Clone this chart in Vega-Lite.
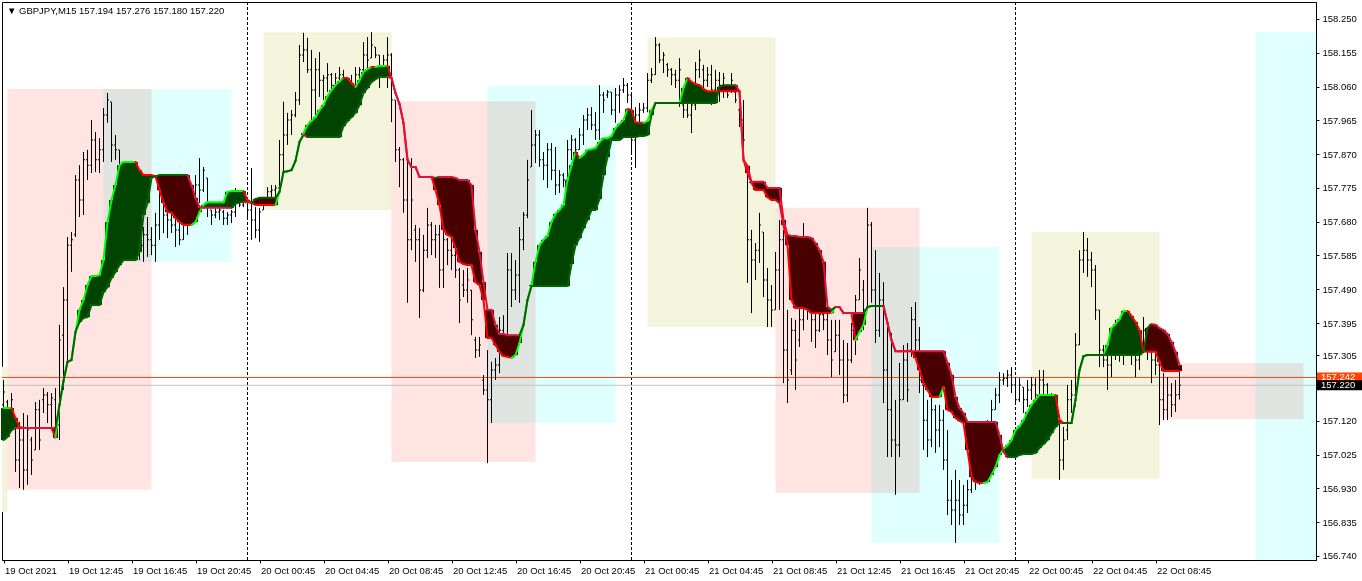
{
"$schema":"https://vega.github.io/schema/vega-lite/v6.json",
"width":1314,"height":558,
"autosize":{"type":"none"},
"padding":{"left":2,"top":2,"right":46,"bottom":21},
"background":"#ffffff",
"title":{"text":"▼ GBPJPY,M15  157.194 157.276 157.180 157.220","anchor":"start","frame":"group","offset":-14,"fontSize":9.5,"fontWeight":"normal","font":"Liberation Sans","color":"#000000","dx":5},
"config":{"font":"Liberation Sans","view":{"stroke":"#000000","strokeWidth":1},"axis":{"labelFont":"Liberation Sans","labelFontSize":9.5,"labelColor":"#000000","domainColor":"#000000","tickColor":"#000000","grid":false,"labelOverlap":false}},
"datasets":{
"sessions":[
{"kind":"Tokyo","s":"2021-10-19T01:00Z","e":"2021-10-19T09:00Z","hi":157.272,"lo":156.864},
{"kind":"London","s":"2021-10-19T09:00Z","e":"2021-10-19T18:00Z","hi":158.053,"lo":156.926},
{"kind":"NewYork","s":"2021-10-19T15:00Z","e":"2021-10-19T23:00Z","hi":158.053,"lo":157.567},
{"kind":"Tokyo","s":"2021-10-20T01:00Z","e":"2021-10-20T09:00Z","hi":158.213,"lo":157.713},
{"kind":"London","s":"2021-10-20T09:00Z","e":"2021-10-20T18:00Z","hi":158.019,"lo":157.004},
{"kind":"NewYork","s":"2021-10-20T15:00Z","e":"2021-10-20T23:00Z","hi":158.062,"lo":157.114},
{"kind":"Tokyo","s":"2021-10-21T01:00Z","e":"2021-10-21T09:00Z","hi":158.199,"lo":157.384},
{"kind":"London","s":"2021-10-21T09:00Z","e":"2021-10-21T18:00Z","hi":157.719,"lo":156.917},
{"kind":"NewYork","s":"2021-10-21T15:00Z","e":"2021-10-21T23:00Z","hi":157.609,"lo":156.777},
{"kind":"Tokyo","s":"2021-10-22T01:00Z","e":"2021-10-22T09:00Z","hi":157.651,"lo":156.957},
{"kind":"London","s":"2021-10-22T09:00Z","e":"2021-10-22T18:00Z","hi":157.283,"lo":157.125},
{"kind":"NewYork","s":"2021-10-22T15:00Z","e":"2021-10-22T23:00Z","hi":158.213,"lo":156.700}
],
"quotes":[{"kind":"Ask","p":157.242},{"kind":"Bid","p":157.220}],
"bars":[
{"t":"2021-10-19T08:45Z","o":157.165,"h":157.235,"l":157.136,"c":157.201,"a":157.156,"b":157.066,"ta":"u"},
{"t":"2021-10-19T09:00Z","o":157.173,"h":157.179,"l":157.094,"c":157.122,"a":157.156,"b":157.075,"ta":"u"},
{"t":"2021-10-19T09:15Z","o":157.128,"h":157.198,"l":157.114,"c":157.179,"a":157.156,"b":157.094},
{"t":"2021-10-19T09:30Z","o":157.108,"h":157.122,"l":156.976,"c":157.010,"a":157.128,"b":157.100},
{"t":"2021-10-19T09:45Z","o":157.010,"h":157.117,"l":156.931,"c":157.066,"a":157.103,"b":157.100},
{"t":"2021-10-19T10:00Z","o":157.066,"h":157.142,"l":156.926,"c":156.982,"a":157.100,"b":157.100},
{"t":"2021-10-19T10:15Z","o":156.982,"h":157.136,"l":156.940,"c":157.094,"a":157.100,"b":157.100},
{"t":"2021-10-19T10:30Z","o":157.066,"h":157.075,"l":156.968,"c":157.010,"a":157.100,"b":157.100},
{"t":"2021-10-19T10:45Z","o":157.038,"h":157.173,"l":157.038,"c":157.151,"a":157.100,"b":157.100},
{"t":"2021-10-19T11:00Z","o":157.151,"h":157.179,"l":157.038,"c":157.066,"a":157.100,"b":157.100},
{"t":"2021-10-19T11:15Z","o":157.179,"h":157.212,"l":157.142,"c":157.193,"a":157.100,"b":157.100},
{"t":"2021-10-19T11:30Z","o":157.193,"h":157.201,"l":157.114,"c":157.165,"a":157.100,"b":157.100},
{"t":"2021-10-19T11:45Z","o":157.165,"h":157.198,"l":157.094,"c":157.184,"a":157.100,"b":157.100},
{"t":"2021-10-19T12:00Z","o":157.179,"h":157.212,"l":157.072,"c":157.122,"a":157.072,"b":157.100},
{"t":"2021-10-19T12:15Z","o":157.108,"h":157.390,"l":157.066,"c":157.347,"a":157.165,"b":157.165},
{"t":"2021-10-19T12:30Z","o":157.361,"h":157.496,"l":157.207,"c":157.460,"a":157.232,"b":157.232},
{"t":"2021-10-19T12:45Z","o":157.460,"h":157.637,"l":157.283,"c":157.614,"a":157.286,"b":157.286},
{"t":"2021-10-19T13:00Z","o":157.614,"h":157.651,"l":157.539,"c":157.629,"a":157.291,"b":157.291},
{"t":"2021-10-19T13:15Z","o":157.643,"h":157.811,"l":157.637,"c":157.797,"a":157.370,"b":157.370},
{"t":"2021-10-19T13:30Z","o":157.797,"h":157.839,"l":157.693,"c":157.741,"a":157.432,"b":157.398},
{"t":"2021-10-19T13:45Z","o":157.741,"h":157.876,"l":157.699,"c":157.854,"a":157.460,"b":157.409},
{"t":"2021-10-19T14:00Z","o":157.854,"h":157.882,"l":157.797,"c":157.839,"a":157.502,"b":157.412},
{"t":"2021-10-19T14:15Z","o":157.839,"h":157.966,"l":157.817,"c":157.910,"a":157.527,"b":157.446,"ta":"u","tb":"u"},
{"t":"2021-10-19T14:30Z","o":157.910,"h":157.932,"l":157.820,"c":157.854,"a":157.527,"b":157.446,"tb":"u"},
{"t":"2021-10-19T14:45Z","o":157.854,"h":157.915,"l":157.817,"c":157.882,"a":157.530,"b":157.446},
{"t":"2021-10-19T15:00Z","o":157.882,"h":158.000,"l":157.848,"c":157.980,"a":157.572,"b":157.482},
{"t":"2021-10-19T15:15Z","o":157.980,"h":158.042,"l":157.958,"c":158.022,"a":157.679,"b":157.496},
{"t":"2021-10-19T15:30Z","o":158.017,"h":158.017,"l":157.848,"c":157.896,"a":157.741,"b":157.522},
{"t":"2021-10-19T15:45Z","o":157.896,"h":157.924,"l":157.854,"c":157.882,"a":157.783,"b":157.539},
{"t":"2021-10-19T16:00Z","o":157.882,"h":157.882,"l":157.741,"c":157.783,"a":157.839,"b":157.558},
{"t":"2021-10-19T16:15Z","o":157.783,"h":157.825,"l":157.657,"c":157.699,"a":157.848,"b":157.572,"ta":"u","tb":"u"},
{"t":"2021-10-19T16:30Z","o":157.699,"h":157.769,"l":157.614,"c":157.657,"a":157.848,"b":157.572,"ta":"u","tb":"u"},
{"t":"2021-10-19T16:45Z","o":157.657,"h":157.741,"l":157.572,"c":157.629,"a":157.848,"b":157.572,"ta":"u","tb":"u"},
{"t":"2021-10-19T17:00Z","o":157.629,"h":157.755,"l":157.600,"c":157.713,"a":157.848,"b":157.572},
{"t":"2021-10-19T17:15Z","o":157.713,"h":157.727,"l":157.572,"c":157.614,"a":157.825,"b":157.595},
{"t":"2021-10-19T17:30Z","o":157.614,"h":157.665,"l":157.567,"c":157.643,"a":157.811,"b":157.699},
{"t":"2021-10-19T17:45Z","o":157.643,"h":157.693,"l":157.581,"c":157.629,"a":157.811,"b":157.733},
{"t":"2021-10-19T18:00Z","o":157.629,"h":157.665,"l":157.586,"c":157.614,"a":157.811,"b":157.803},
{"t":"2021-10-19T18:15Z","o":157.614,"h":157.705,"l":157.567,"c":157.671,"a":157.808,"b":157.808},
{"t":"2021-10-19T18:30Z","o":157.671,"h":157.797,"l":157.629,"c":157.755,"a":157.769,"b":157.811,"tb":"u"},
{"t":"2021-10-19T18:45Z","o":157.755,"h":157.761,"l":157.648,"c":157.699,"a":157.733,"b":157.811,"tb":"u"},
{"t":"2021-10-19T19:00Z","o":157.699,"h":157.733,"l":157.634,"c":157.685,"a":157.707,"b":157.811,"tb":"u"},
{"t":"2021-10-19T19:15Z","o":157.685,"h":157.705,"l":157.648,"c":157.671,"a":157.705,"b":157.811,"tb":"u"},
{"t":"2021-10-19T19:30Z","o":157.671,"h":157.693,"l":157.609,"c":157.657,"a":157.690,"b":157.811,"tb":"u"},
{"t":"2021-10-19T19:45Z","o":157.657,"h":157.676,"l":157.614,"c":157.629,"a":157.679,"b":157.811,"tb":"u"},
{"t":"2021-10-19T20:00Z","o":157.629,"h":157.741,"l":157.629,"c":157.699,"a":157.671,"b":157.811,"tb":"u"},
{"t":"2021-10-19T20:15Z","o":157.699,"h":157.755,"l":157.643,"c":157.713,"a":157.671,"b":157.811},
{"t":"2021-10-19T20:30Z","o":157.713,"h":157.769,"l":157.671,"c":157.741,"a":157.671,"b":157.783},
{"t":"2021-10-19T20:45Z","o":157.741,"h":157.811,"l":157.699,"c":157.783,"a":157.679,"b":157.747},
{"t":"2021-10-19T21:00Z","o":157.783,"h":157.859,"l":157.733,"c":157.769,"a":157.707,"b":157.721},
{"t":"2021-10-19T21:15Z","o":157.769,"h":157.834,"l":157.764,"c":157.825,"a":157.727,"b":157.719},
{"t":"2021-10-19T21:30Z","o":157.803,"h":157.803,"l":157.693,"c":157.727,"a":157.735,"b":157.719,"ta":"u"},
{"t":"2021-10-19T21:45Z","o":157.713,"h":157.713,"l":157.671,"c":157.699,"a":157.735,"b":157.719,"ta":"u"},
{"t":"2021-10-19T22:00Z","o":157.699,"h":157.719,"l":157.690,"c":157.707,"a":157.735,"b":157.719,"ta":"u"},
{"t":"2021-10-19T22:15Z","o":157.707,"h":157.721,"l":157.685,"c":157.713,"a":157.735,"b":157.719,"ta":"u"},
{"t":"2021-10-19T22:30Z","o":157.707,"h":157.713,"l":157.671,"c":157.690,"a":157.735,"b":157.719},
{"t":"2021-10-19T22:45Z","o":157.690,"h":157.707,"l":157.671,"c":157.699,"a":157.764,"b":157.719},
{"t":"2021-10-19T23:00Z","o":157.699,"h":157.713,"l":157.676,"c":157.707,"a":157.766,"b":157.719,"ta":"u"},
{"t":"2021-10-19T23:15Z","o":157.707,"h":157.775,"l":157.693,"c":157.741,"a":157.766,"b":157.730,"ta":"u"},
{"t":"2021-10-19T23:30Z","o":157.741,"h":157.749,"l":157.721,"c":157.727,"a":157.766,"b":157.735,"ta":"u","tb":"u"},
{"t":"2021-10-19T23:45Z","o":157.727,"h":157.755,"l":157.721,"c":157.741,"a":157.766,"b":157.735},
{"t":"2021-10-20T00:00Z","o":157.735,"h":157.735,"l":157.690,"c":157.713,"a":157.741,"b":157.735},
{"t":"2021-10-20T00:15Z","o":157.713,"h":157.831,"l":157.629,"c":157.685,"a":157.733,"b":157.733},
{"t":"2021-10-20T00:30Z","o":157.685,"h":157.721,"l":157.634,"c":157.657,"a":157.727,"b":157.744},
{"t":"2021-10-20T00:45Z","o":157.657,"h":157.719,"l":157.623,"c":157.707,"a":157.727,"b":157.747,"tb":"u"},
{"t":"2021-10-20T01:00Z","o":157.713,"h":157.733,"l":157.713,"c":157.727,"a":157.727,"b":157.747,"tb":"u"},
{"t":"2021-10-20T01:15Z","o":157.741,"h":157.777,"l":157.741,"c":157.764,"a":157.727,"b":157.747,"tb":"u"},
{"t":"2021-10-20T01:30Z","o":157.764,"h":157.783,"l":157.747,"c":157.769,"a":157.727,"b":157.747,"tb":"u"},
{"t":"2021-10-20T01:45Z","o":157.769,"h":157.783,"l":157.747,"c":157.775,"a":157.727,"b":157.747},
{"t":"2021-10-20T02:00Z","o":157.775,"h":157.910,"l":157.775,"c":157.868,"a":157.764,"b":157.764},
{"t":"2021-10-20T02:15Z","o":157.868,"h":158.017,"l":157.820,"c":157.924,"a":157.820,"b":157.820},
{"t":"2021-10-20T02:30Z","o":157.924,"h":157.986,"l":157.896,"c":157.966,"a":157.822,"b":157.822},
{"t":"2021-10-20T02:45Z","o":157.966,"h":157.994,"l":157.924,"c":157.980,"a":157.825,"b":157.825},
{"t":"2021-10-20T03:00Z","o":157.980,"h":158.045,"l":157.974,"c":158.022,"a":157.851,"b":157.851},
{"t":"2021-10-20T03:15Z","o":158.022,"h":158.177,"l":158.008,"c":158.149,"a":157.904,"b":157.904},
{"t":"2021-10-20T03:30Z","o":158.149,"h":158.211,"l":158.129,"c":158.163,"a":157.929,"b":157.924},
{"t":"2021-10-20T03:45Z","o":158.163,"h":158.197,"l":158.098,"c":158.107,"a":157.952,"b":157.918,"tb":"u"},
{"t":"2021-10-20T04:00Z","o":158.107,"h":158.163,"l":157.966,"c":158.050,"a":157.963,"b":157.918,"tb":"u"},
{"t":"2021-10-20T04:15Z","o":158.050,"h":158.140,"l":157.980,"c":158.107,"a":157.974,"b":157.918,"tb":"u"},
{"t":"2021-10-20T04:30Z","o":158.107,"h":158.157,"l":158.031,"c":158.078,"a":157.994,"b":157.918,"tb":"u"},
{"t":"2021-10-20T04:45Z","o":158.078,"h":158.093,"l":158.022,"c":158.084,"a":158.008,"b":157.918,"tb":"u"},
{"t":"2021-10-20T05:00Z","o":158.084,"h":158.126,"l":158.045,"c":158.093,"a":158.033,"b":157.918,"tb":"u"},
{"t":"2021-10-20T05:15Z","o":158.093,"h":158.098,"l":158.036,"c":158.064,"a":158.050,"b":157.918,"tb":"u"},
{"t":"2021-10-20T05:30Z","o":158.064,"h":158.098,"l":158.050,"c":158.084,"a":158.064,"b":157.918,"tb":"u"},
{"t":"2021-10-20T05:45Z","o":158.084,"h":158.115,"l":158.064,"c":158.093,"a":158.075,"b":157.918},
{"t":"2021-10-20T06:00Z","o":158.093,"h":158.107,"l":158.008,"c":158.036,"a":158.084,"b":157.949},
{"t":"2021-10-20T06:15Z","o":158.036,"h":158.078,"l":157.980,"c":158.022,"a":158.084,"b":157.963},
{"t":"2021-10-20T06:30Z","o":158.022,"h":158.093,"l":157.994,"c":158.050,"a":158.070,"b":157.974},
{"t":"2021-10-20T06:45Z","o":158.050,"h":158.115,"l":158.022,"c":158.093,"a":158.059,"b":157.986},
{"t":"2021-10-20T07:00Z","o":158.093,"h":158.115,"l":158.036,"c":158.107,"a":158.078,"b":158.008},
{"t":"2021-10-20T07:15Z","o":158.107,"h":158.185,"l":158.101,"c":158.149,"a":158.101,"b":158.042},
{"t":"2021-10-20T07:30Z","o":158.149,"h":158.199,"l":158.107,"c":158.135,"a":158.109,"b":158.056},
{"t":"2021-10-20T07:45Z","o":158.140,"h":158.213,"l":158.140,"c":158.177,"a":158.115,"b":158.073},
{"t":"2021-10-20T08:00Z","o":158.171,"h":158.171,"l":158.140,"c":158.149,"a":158.115,"b":158.081},
{"t":"2021-10-20T08:15Z","o":158.149,"h":158.149,"l":158.056,"c":158.107,"a":158.118,"b":158.087,"ta":"u","tb":"u"},
{"t":"2021-10-20T08:30Z","o":158.107,"h":158.149,"l":158.093,"c":158.135,"a":158.118,"b":158.087,"ta":"u","tb":"u"},
{"t":"2021-10-20T08:45Z","o":158.135,"h":158.199,"l":158.056,"c":158.149,"a":158.118,"b":158.087},
{"t":"2021-10-20T09:00Z","o":158.149,"h":158.154,"l":157.960,"c":158.022,"a":158.084,"b":158.084},
{"t":"2021-10-20T09:15Z","o":158.022,"h":158.022,"l":157.848,"c":157.882,"a":158.042,"b":158.042},
{"t":"2021-10-20T09:30Z","o":157.882,"h":157.890,"l":157.777,"c":157.854,"a":158.011,"b":158.011},
{"t":"2021-10-20T09:45Z","o":157.854,"h":157.859,"l":157.705,"c":157.741,"a":157.958,"b":157.958},
{"t":"2021-10-20T10:00Z","o":157.741,"h":157.868,"l":157.452,"c":157.629,"a":157.854,"b":157.854},
{"t":"2021-10-20T10:15Z","o":157.629,"h":157.859,"l":157.600,"c":157.741,"a":157.834,"b":157.834},
{"t":"2021-10-20T10:30Z","o":157.657,"h":157.671,"l":157.567,"c":157.629,"a":157.834,"b":157.834},
{"t":"2021-10-20T10:45Z","o":157.629,"h":157.662,"l":157.409,"c":157.488,"a":157.806,"b":157.806},
{"t":"2021-10-20T11:00Z","o":157.488,"h":157.643,"l":157.482,"c":157.600,"a":157.806,"b":157.806},
{"t":"2021-10-20T11:15Z","o":157.600,"h":157.719,"l":157.578,"c":157.671,"a":157.806,"b":157.806},
{"t":"2021-10-20T11:30Z","o":157.671,"h":157.679,"l":157.586,"c":157.629,"a":157.806,"b":157.806},
{"t":"2021-10-20T11:45Z","o":157.629,"h":157.671,"l":157.578,"c":157.643,"a":157.769,"b":157.803},
{"t":"2021-10-20T12:00Z","o":157.643,"h":157.671,"l":157.494,"c":157.544,"a":157.727,"b":157.806},
{"t":"2021-10-20T12:15Z","o":157.544,"h":157.662,"l":157.494,"c":157.629,"a":157.657,"b":157.806},
{"t":"2021-10-20T12:30Z","o":157.629,"h":157.634,"l":157.558,"c":157.600,"a":157.643,"b":157.806},
{"t":"2021-10-20T12:45Z","o":157.600,"h":157.643,"l":157.544,"c":157.586,"a":157.637,"b":157.806},
{"t":"2021-10-20T13:00Z","o":157.586,"h":157.623,"l":157.522,"c":157.544,"a":157.606,"b":157.803},
{"t":"2021-10-20T13:15Z","o":157.544,"h":157.550,"l":157.395,"c":157.460,"a":157.567,"b":157.797},
{"t":"2021-10-20T13:30Z","o":157.502,"h":157.544,"l":157.468,"c":157.488,"a":157.561,"b":157.797},
{"t":"2021-10-20T13:45Z","o":157.488,"h":157.550,"l":157.452,"c":157.516,"a":157.558,"b":157.797},
{"t":"2021-10-20T14:00Z","o":157.488,"h":157.488,"l":157.361,"c":157.404,"a":157.558,"b":157.783},
{"t":"2021-10-20T14:15Z","o":157.347,"h":157.356,"l":157.297,"c":157.319,"a":157.510,"b":157.657},
{"t":"2021-10-20T14:30Z","o":157.319,"h":157.356,"l":157.300,"c":157.333,"a":157.502,"b":157.595},
{"t":"2021-10-20T14:45Z","o":157.235,"h":157.249,"l":157.193,"c":157.207,"a":157.460,"b":157.510},
{"t":"2021-10-20T15:00Z","o":157.207,"h":157.319,"l":157.001,"c":157.179,"a":157.353,"b":157.432},
{"t":"2021-10-20T15:15Z","o":157.179,"h":157.286,"l":157.114,"c":157.263,"a":157.353,"b":157.432},
{"t":"2021-10-20T15:30Z","o":157.263,"h":157.297,"l":157.235,"c":157.277,"a":157.333,"b":157.390},
{"t":"2021-10-20T15:45Z","o":157.277,"h":157.412,"l":157.254,"c":157.375,"a":157.314,"b":157.364},
{"t":"2021-10-20T16:00Z","o":157.375,"h":157.417,"l":157.305,"c":157.347,"a":157.302,"b":157.364},
{"t":"2021-10-20T16:15Z","o":157.353,"h":157.592,"l":157.353,"c":157.544,"a":157.300,"b":157.361},
{"t":"2021-10-20T16:30Z","o":157.544,"h":157.592,"l":157.440,"c":157.488,"a":157.297,"b":157.361},
{"t":"2021-10-20T16:45Z","o":157.488,"h":157.572,"l":157.460,"c":157.530,"a":157.305,"b":157.361},
{"t":"2021-10-20T17:00Z","o":157.530,"h":157.665,"l":157.452,"c":157.629,"a":157.339,"b":157.361},
{"t":"2021-10-20T17:15Z","o":157.629,"h":157.707,"l":157.600,"c":157.699,"a":157.390,"b":157.390},
{"t":"2021-10-20T17:30Z","o":157.699,"h":157.854,"l":157.690,"c":157.797,"a":157.460,"b":157.460},
{"t":"2021-10-20T17:45Z","o":157.834,"h":157.994,"l":157.834,"c":157.896,"a":157.502,"b":157.499,"tb":"u"},
{"t":"2021-10-20T18:00Z","o":157.896,"h":157.938,"l":157.845,"c":157.924,"a":157.567,"b":157.499,"tb":"u"},
{"t":"2021-10-20T18:15Z","o":157.924,"h":157.938,"l":157.834,"c":157.854,"a":157.614,"b":157.499,"tb":"u"},
{"t":"2021-10-20T18:30Z","o":157.854,"h":157.876,"l":157.797,"c":157.839,"a":157.629,"b":157.499,"tb":"u"},
{"t":"2021-10-20T18:45Z","o":157.839,"h":157.901,"l":157.775,"c":157.882,"a":157.640,"b":157.499,"tb":"u"},
{"t":"2021-10-20T19:00Z","o":157.882,"h":157.901,"l":157.797,"c":157.825,"a":157.679,"b":157.499,"tb":"u"},
{"t":"2021-10-20T19:15Z","o":157.825,"h":157.890,"l":157.755,"c":157.783,"a":157.702,"b":157.499,"tb":"u"},
{"t":"2021-10-20T19:30Z","o":157.783,"h":157.825,"l":157.761,"c":157.811,"a":157.713,"b":157.499,"tb":"u"},
{"t":"2021-10-20T19:45Z","o":157.811,"h":157.817,"l":157.777,"c":157.797,"a":157.727,"b":157.499,"tb":"u"},
{"t":"2021-10-20T20:00Z","o":157.797,"h":157.910,"l":157.797,"c":157.882,"a":157.797,"b":157.499},
{"t":"2021-10-20T20:15Z","o":157.882,"h":157.924,"l":157.854,"c":157.910,"a":157.839,"b":157.561},
{"t":"2021-10-20T20:30Z","o":157.910,"h":157.915,"l":157.873,"c":157.882,"a":157.876,"b":157.614},
{"t":"2021-10-20T20:45Z","o":157.882,"h":157.943,"l":157.882,"c":157.924,"a":157.859,"b":157.634},
{"t":"2021-10-20T21:00Z","o":157.924,"h":157.980,"l":157.896,"c":157.966,"a":157.868,"b":157.662},
{"t":"2021-10-20T21:15Z","o":157.966,"h":158.000,"l":157.938,"c":157.980,"a":157.882,"b":157.685},
{"t":"2021-10-20T21:30Z","o":157.980,"h":158.002,"l":157.938,"c":157.952,"a":157.884,"b":157.713,"tb":"u"},
{"t":"2021-10-20T21:45Z","o":157.952,"h":157.988,"l":157.910,"c":157.938,"a":157.887,"b":157.713},
{"t":"2021-10-20T22:00Z","o":157.938,"h":158.064,"l":157.910,"c":158.036,"a":157.904,"b":157.744},
{"t":"2021-10-20T22:15Z","o":158.036,"h":158.045,"l":157.986,"c":158.022,"a":157.915,"b":157.811,"ta":"u"},
{"t":"2021-10-20T22:30Z","o":158.036,"h":158.050,"l":158.028,"c":158.045,"a":157.915,"b":157.862},
{"t":"2021-10-20T22:45Z","o":158.045,"h":158.045,"l":157.980,"c":157.994,"a":157.921,"b":157.910,"tb":"u"},
{"t":"2021-10-20T23:00Z","o":157.994,"h":158.056,"l":157.958,"c":158.036,"a":157.943,"b":157.910,"tb":"u"},
{"t":"2021-10-20T23:15Z","o":158.036,"h":158.064,"l":157.986,"c":158.050,"a":157.955,"b":157.910},
{"t":"2021-10-20T23:30Z","o":158.050,"h":158.084,"l":158.042,"c":158.064,"a":157.966,"b":157.918,"tb":"u"},
{"t":"2021-10-20T23:45Z","o":158.064,"h":158.070,"l":158.014,"c":158.036,"a":157.997,"b":157.918,"tb":"u"},
{"t":"2021-10-21T00:00Z","o":158.036,"h":158.036,"l":157.873,"c":157.910,"a":157.994,"b":157.918,"tb":"u"},
{"t":"2021-10-21T00:15Z","o":157.910,"h":158.002,"l":157.831,"c":157.980,"a":157.960,"b":157.918},
{"t":"2021-10-21T00:30Z","o":157.980,"h":158.014,"l":157.960,"c":157.994,"a":157.958,"b":157.921,"tb":"u"},
{"t":"2021-10-21T00:45Z","o":157.994,"h":158.014,"l":157.986,"c":158.000,"a":157.958,"b":157.921},
{"t":"2021-10-21T01:00Z","o":158.000,"h":158.098,"l":157.988,"c":158.078,"a":157.963,"b":157.924},
{"t":"2021-10-21T01:15Z","o":158.078,"h":158.112,"l":158.070,"c":158.093,"a":157.994,"b":157.980},
{"t":"2021-10-21T01:30Z","o":158.093,"h":158.199,"l":158.093,"c":158.177,"a":158.014,"b":158.014,"tb":"u"},
{"t":"2021-10-21T01:45Z","o":158.177,"h":158.182,"l":158.126,"c":158.135,"a":158.014,"b":158.014,"tb":"u"},
{"t":"2021-10-21T02:00Z","o":158.135,"h":158.157,"l":158.098,"c":158.149,"a":158.014,"b":158.014,"tb":"u"},
{"t":"2021-10-21T02:15Z","o":158.121,"h":158.126,"l":158.087,"c":158.107,"a":158.014,"b":158.014,"tb":"u"},
{"t":"2021-10-21T02:30Z","o":158.107,"h":158.112,"l":158.064,"c":158.093,"a":158.014,"b":158.014,"tb":"u"},
{"t":"2021-10-21T02:45Z","o":158.093,"h":158.107,"l":158.056,"c":158.078,"a":158.014,"b":158.014,"tb":"u"},
{"t":"2021-10-21T03:00Z","o":158.078,"h":158.140,"l":158.003,"c":158.107,"a":158.014,"b":158.014,"tb":"u"},
{"t":"2021-10-21T03:15Z","o":158.008,"h":158.014,"l":157.972,"c":157.994,"a":158.056,"b":158.014,"tb":"u"},
{"t":"2021-10-21T03:30Z","o":157.994,"h":158.014,"l":157.972,"c":157.980,"a":158.084,"b":158.014,"tb":"u"},
{"t":"2021-10-21T03:45Z","o":157.980,"h":158.014,"l":157.929,"c":158.008,"a":158.073,"b":158.014,"tb":"u"},
{"t":"2021-10-21T04:00Z","o":158.008,"h":158.129,"l":157.994,"c":158.107,"a":158.067,"b":158.014,"tb":"u"},
{"t":"2021-10-21T04:15Z","o":158.107,"h":158.163,"l":158.084,"c":158.135,"a":158.064,"b":158.014,"tb":"u"},
{"t":"2021-10-21T04:30Z","o":158.107,"h":158.121,"l":158.050,"c":158.078,"a":158.053,"b":158.014,"tb":"u"},
{"t":"2021-10-21T04:45Z","o":158.078,"h":158.115,"l":158.059,"c":158.093,"a":158.047,"b":158.014,"tb":"u"},
{"t":"2021-10-21T05:00Z","o":158.093,"h":158.121,"l":158.008,"c":158.050,"a":158.047,"b":158.014,"tb":"u"},
{"t":"2021-10-21T05:15Z","o":158.050,"h":158.107,"l":158.036,"c":158.078,"a":158.047,"b":158.014},
{"t":"2021-10-21T05:30Z","o":158.078,"h":158.101,"l":158.017,"c":158.064,"a":158.047,"b":158.059},
{"t":"2021-10-21T05:45Z","o":158.064,"h":158.098,"l":158.028,"c":158.084,"a":158.047,"b":158.064,"tb":"u"},
{"t":"2021-10-21T06:00Z","o":158.050,"h":158.056,"l":158.028,"c":158.036,"a":158.047,"b":158.064,"tb":"u"},
{"t":"2021-10-21T06:15Z","o":158.050,"h":158.098,"l":158.042,"c":158.078,"a":158.047,"b":158.064,"tb":"u"},
{"t":"2021-10-21T06:30Z","o":158.045,"h":158.050,"l":158.014,"c":158.022,"a":158.047,"b":158.064},
{"t":"2021-10-21T06:45Z","o":157.994,"h":158.000,"l":157.946,"c":157.966,"a":158.047,"b":158.047},
{"t":"2021-10-21T07:00Z","o":157.966,"h":158.022,"l":157.890,"c":157.910,"a":157.854,"b":157.854},
{"t":"2021-10-21T07:15Z","o":157.825,"h":157.839,"l":157.508,"c":157.629,"a":157.817,"b":157.837},
{"t":"2021-10-21T07:30Z","o":157.629,"h":157.657,"l":157.423,"c":157.572,"a":157.789,"b":157.792},
{"t":"2021-10-21T07:45Z","o":157.572,"h":157.620,"l":157.516,"c":157.600,"a":157.769,"b":157.792},
{"t":"2021-10-21T08:00Z","o":157.600,"h":157.705,"l":157.564,"c":157.671,"a":157.769,"b":157.792},
{"t":"2021-10-21T08:15Z","o":157.651,"h":157.651,"l":157.468,"c":157.516,"a":157.769,"b":157.792},
{"t":"2021-10-21T08:30Z","o":157.516,"h":157.550,"l":157.384,"c":157.460,"a":157.749,"b":157.775},
{"t":"2021-10-21T08:45Z","o":157.460,"h":157.502,"l":157.384,"c":157.432,"a":157.741,"b":157.775},
{"t":"2021-10-21T09:00Z","o":157.432,"h":157.595,"l":157.432,"c":157.544,"a":157.741,"b":157.775},
{"t":"2021-10-21T09:15Z","o":157.544,"h":157.685,"l":157.432,"c":157.629,"a":157.733,"b":157.775},
{"t":"2021-10-21T09:30Z","o":157.629,"h":157.657,"l":157.226,"c":157.319,"a":157.671,"b":157.685},
{"t":"2021-10-21T09:45Z","o":157.319,"h":157.432,"l":157.170,"c":157.235,"a":157.614,"b":157.643},
{"t":"2021-10-21T10:00Z","o":157.263,"h":157.409,"l":157.249,"c":157.375,"a":157.460,"b":157.640},
{"t":"2021-10-21T10:15Z","o":157.375,"h":157.404,"l":157.207,"c":157.291,"a":157.437,"b":157.640},
{"t":"2021-10-21T10:30Z","o":157.347,"h":157.460,"l":157.328,"c":157.404,"a":157.437,"b":157.637},
{"t":"2021-10-21T10:45Z","o":157.404,"h":157.676,"l":157.375,"c":157.516,"a":157.437,"b":157.637},
{"t":"2021-10-21T11:00Z","o":157.516,"h":157.629,"l":157.404,"c":157.460,"a":157.432,"b":157.637},
{"t":"2021-10-21T11:15Z","o":157.460,"h":157.572,"l":157.342,"c":157.404,"a":157.423,"b":157.634},
{"t":"2021-10-21T11:30Z","o":157.404,"h":157.516,"l":157.325,"c":157.375,"a":157.423,"b":157.620},
{"t":"2021-10-21T11:45Z","o":157.375,"h":157.488,"l":157.370,"c":157.418,"a":157.423,"b":157.600},
{"t":"2021-10-21T12:00Z","o":157.418,"h":157.460,"l":157.375,"c":157.404,"a":157.423,"b":157.567},
{"t":"2021-10-21T12:15Z","o":157.404,"h":157.460,"l":157.305,"c":157.347,"a":157.423,"b":157.440},
{"t":"2021-10-21T12:30Z","o":157.347,"h":157.404,"l":157.243,"c":157.291,"a":157.423,"b":157.432},
{"t":"2021-10-21T12:45Z","o":157.314,"h":157.404,"l":157.314,"c":157.361,"a":157.440,"b":157.440},
{"t":"2021-10-21T13:00Z","o":157.361,"h":157.404,"l":157.249,"c":157.291,"a":157.440,"b":157.440},
{"t":"2021-10-21T13:15Z","o":157.291,"h":157.347,"l":157.170,"c":157.193,"a":157.423,"b":157.423},
{"t":"2021-10-21T13:30Z","o":157.193,"h":157.339,"l":157.173,"c":157.291,"a":157.423,"b":157.423},
{"t":"2021-10-21T13:45Z","o":157.291,"h":157.395,"l":157.283,"c":157.375,"a":157.423,"b":157.423},
{"t":"2021-10-21T14:00Z","o":157.375,"h":157.474,"l":157.305,"c":157.460,"a":157.347,"b":157.423},
{"t":"2021-10-21T14:15Z","o":157.460,"h":157.578,"l":157.460,"c":157.544,"a":157.370,"b":157.423},
{"t":"2021-10-21T14:30Z","o":157.488,"h":157.516,"l":157.375,"c":157.432,"a":157.390,"b":157.423},
{"t":"2021-10-21T14:45Z","o":157.432,"h":157.719,"l":157.432,"c":157.671,"a":157.440,"b":157.440},
{"t":"2021-10-21T15:00Z","o":157.671,"h":157.679,"l":157.452,"c":157.488,"a":157.443,"b":157.443,"tb":"u"},
{"t":"2021-10-21T15:15Z","o":157.488,"h":157.600,"l":157.339,"c":157.375,"a":157.443,"b":157.443,"tb":"u"},
{"t":"2021-10-21T15:30Z","o":157.375,"h":157.536,"l":157.356,"c":157.460,"a":157.443,"b":157.443,"tb":"u"},
{"t":"2021-10-21T15:45Z","o":157.460,"h":157.510,"l":157.170,"c":157.263,"a":157.443,"b":157.443},
{"t":"2021-10-21T16:00Z","o":157.263,"h":157.384,"l":157.018,"c":157.151,"a":157.395,"b":157.395},
{"t":"2021-10-21T16:15Z","o":157.151,"h":157.367,"l":157.018,"c":157.066,"a":157.347,"b":157.347},
{"t":"2021-10-21T16:30Z","o":157.066,"h":157.179,"l":156.912,"c":157.052,"a":157.316,"b":157.316},
{"t":"2021-10-21T16:45Z","o":157.052,"h":157.283,"l":157.018,"c":157.179,"a":157.316,"b":157.316},
{"t":"2021-10-21T17:00Z","o":157.179,"h":157.333,"l":157.179,"c":157.291,"a":157.316,"b":157.316},
{"t":"2021-10-21T17:15Z","o":157.291,"h":157.339,"l":157.173,"c":157.207,"a":157.316,"b":157.316},
{"t":"2021-10-21T17:30Z","o":157.319,"h":157.440,"l":157.300,"c":157.404,"a":157.316,"b":157.316},
{"t":"2021-10-21T17:45Z","o":157.404,"h":157.454,"l":157.311,"c":157.347,"a":157.297,"b":157.316},
{"t":"2021-10-21T18:00Z","o":157.347,"h":157.384,"l":157.198,"c":157.235,"a":157.263,"b":157.316},
{"t":"2021-10-21T18:15Z","o":157.221,"h":157.221,"l":157.038,"c":157.122,"a":157.226,"b":157.316},
{"t":"2021-10-21T18:30Z","o":157.122,"h":157.179,"l":157.018,"c":157.066,"a":157.207,"b":157.316},
{"t":"2021-10-21T18:45Z","o":157.066,"h":157.193,"l":157.046,"c":157.151,"a":157.187,"b":157.316},
{"t":"2021-10-21T19:00Z","o":157.151,"h":157.165,"l":157.030,"c":157.094,"a":157.187,"b":157.316},
{"t":"2021-10-21T19:15Z","o":157.094,"h":157.165,"l":157.046,"c":157.122,"a":157.187,"b":157.316},
{"t":"2021-10-21T19:30Z","o":157.122,"h":157.151,"l":156.982,"c":157.010,"a":157.215,"b":157.316},
{"t":"2021-10-21T19:45Z","o":157.010,"h":157.094,"l":156.855,"c":156.897,"a":157.151,"b":157.283},
{"t":"2021-10-21T20:00Z","o":156.897,"h":156.954,"l":156.827,"c":156.869,"a":157.145,"b":157.249},
{"t":"2021-10-21T20:15Z","o":156.869,"h":156.982,"l":156.777,"c":156.897,"a":157.128,"b":157.187},
{"t":"2021-10-21T20:30Z","o":156.897,"h":156.954,"l":156.827,"c":156.855,"a":157.120,"b":157.156},
{"t":"2021-10-21T20:45Z","o":156.855,"h":156.940,"l":156.827,"c":156.883,"a":157.114,"b":157.142},
{"t":"2021-10-21T21:00Z","o":156.883,"h":156.954,"l":156.861,"c":156.926,"a":157.038,"b":157.117},
{"t":"2021-10-21T21:15Z","o":156.926,"h":156.982,"l":156.917,"c":156.954,"a":156.962,"b":157.117},
{"t":"2021-10-21T21:30Z","o":156.954,"h":157.024,"l":156.926,"c":156.996,"a":156.948,"b":157.117},
{"t":"2021-10-21T21:45Z","o":156.996,"h":157.038,"l":156.940,"c":156.982,"a":156.945,"b":157.117},
{"t":"2021-10-21T22:00Z","o":156.982,"h":157.066,"l":156.954,"c":157.038,"a":156.945,"b":157.117},
{"t":"2021-10-21T22:15Z","o":157.038,"h":157.122,"l":156.982,"c":157.094,"a":156.948,"b":157.117},
{"t":"2021-10-21T22:30Z","o":157.094,"h":157.179,"l":157.024,"c":157.151,"a":156.968,"b":157.117},
{"t":"2021-10-21T22:45Z","o":157.151,"h":157.212,"l":157.151,"c":157.193,"a":156.990,"b":157.117},
{"t":"2021-10-21T23:00Z","o":157.193,"h":157.257,"l":157.170,"c":157.235,"a":157.024,"b":157.080},
{"t":"2021-10-21T23:15Z","o":157.235,"h":157.254,"l":157.221,"c":157.240,"a":157.041,"b":157.033},
{"t":"2021-10-21T23:30Z","o":157.240,"h":157.263,"l":157.215,"c":157.249,"a":157.052,"b":157.018,"tb":"u"},
{"t":"2021-10-21T23:45Z","o":157.249,"h":157.271,"l":157.198,"c":157.221,"a":157.066,"b":157.018,"tb":"u"},
{"t":"2021-10-22T00:00Z","o":157.221,"h":157.243,"l":157.165,"c":157.179,"a":157.094,"b":157.018},
{"t":"2021-10-22T00:15Z","o":157.179,"h":157.240,"l":157.173,"c":157.221,"a":157.105,"b":157.024},
{"t":"2021-10-22T00:30Z","o":157.215,"h":157.215,"l":157.142,"c":157.179,"a":157.122,"b":157.027,"tb":"u"},
{"t":"2021-10-22T00:45Z","o":157.179,"h":157.235,"l":157.159,"c":157.207,"a":157.145,"b":157.027,"tb":"u"},
{"t":"2021-10-22T01:00Z","o":157.207,"h":157.243,"l":157.179,"c":157.221,"a":157.165,"b":157.027},
{"t":"2021-10-22T01:15Z","o":157.221,"h":157.240,"l":157.151,"c":157.193,"a":157.179,"b":157.030},
{"t":"2021-10-22T01:30Z","o":157.193,"h":157.263,"l":157.187,"c":157.235,"a":157.193,"b":157.044,"ta":"u"},
{"t":"2021-10-22T01:45Z","o":157.235,"h":157.263,"l":157.187,"c":157.221,"a":157.193,"b":157.055,"ta":"u"},
{"t":"2021-10-22T02:00Z","o":157.221,"h":157.226,"l":157.159,"c":157.193,"a":157.193,"b":157.066,"ta":"u"},
{"t":"2021-10-22T02:15Z","o":157.193,"h":157.198,"l":157.142,"c":157.165,"a":157.193,"b":157.086,"ta":"u"},
{"t":"2021-10-22T02:30Z","o":157.165,"h":157.179,"l":157.108,"c":157.136,"a":157.193,"b":157.103},
{"t":"2021-10-22T02:45Z","o":157.136,"h":157.136,"l":156.954,"c":157.010,"a":157.122,"b":157.114},
{"t":"2021-10-22T03:00Z","o":157.010,"h":157.103,"l":156.982,"c":157.066,"a":157.114,"b":157.114,"tb":"u"},
{"t":"2021-10-22T03:15Z","o":157.094,"h":157.221,"l":157.066,"c":157.179,"a":157.114,"b":157.114,"tb":"u"},
{"t":"2021-10-22T03:30Z","o":157.179,"h":157.235,"l":157.142,"c":157.193,"a":157.114,"b":157.114},
{"t":"2021-10-22T03:45Z","o":157.193,"h":157.367,"l":157.159,"c":157.333,"a":157.179,"b":157.179},
{"t":"2021-10-22T04:00Z","o":157.333,"h":157.600,"l":157.333,"c":157.572,"a":157.263,"b":157.263},
{"t":"2021-10-22T04:15Z","o":157.572,"h":157.651,"l":157.536,"c":157.600,"a":157.302,"b":157.302},
{"t":"2021-10-22T04:30Z","o":157.600,"h":157.634,"l":157.525,"c":157.572,"a":157.305,"b":157.305,"tb":"u"},
{"t":"2021-10-22T04:45Z","o":157.572,"h":157.595,"l":157.496,"c":157.544,"a":157.305,"b":157.305,"tb":"u"},
{"t":"2021-10-22T05:00Z","o":157.544,"h":157.558,"l":157.404,"c":157.432,"a":157.305,"b":157.305,"tb":"u"},
{"t":"2021-10-22T05:15Z","o":157.432,"h":157.432,"l":157.271,"c":157.319,"a":157.305,"b":157.305,"tb":"u"},
{"t":"2021-10-22T05:30Z","o":157.319,"h":157.333,"l":157.271,"c":157.291,"a":157.305,"b":157.305,"tb":"u"},
{"t":"2021-10-22T05:45Z","o":157.291,"h":157.328,"l":157.207,"c":157.277,"a":157.333,"b":157.305,"tb":"u"},
{"t":"2021-10-22T06:00Z","o":157.277,"h":157.375,"l":157.243,"c":157.333,"a":157.381,"b":157.305,"tb":"u"},
{"t":"2021-10-22T06:15Z","o":157.333,"h":157.404,"l":157.291,"c":157.347,"a":157.392,"b":157.305,"tb":"u"},
{"t":"2021-10-22T06:30Z","o":157.347,"h":157.390,"l":157.286,"c":157.305,"a":157.406,"b":157.305,"tb":"u"},
{"t":"2021-10-22T06:45Z","o":157.305,"h":157.375,"l":157.277,"c":157.333,"a":157.429,"b":157.305,"ta":"u","tb":"u"},
{"t":"2021-10-22T07:00Z","o":157.333,"h":157.390,"l":157.305,"c":157.347,"a":157.429,"b":157.305,"tb":"u"},
{"t":"2021-10-22T07:15Z","o":157.347,"h":157.347,"l":157.277,"c":157.305,"a":157.415,"b":157.305,"tb":"u"},
{"t":"2021-10-22T07:30Z","o":157.305,"h":157.333,"l":157.243,"c":157.291,"a":157.398,"b":157.305,"tb":"u"},
{"t":"2021-10-22T07:45Z","o":157.291,"h":157.347,"l":157.263,"c":157.319,"a":157.375,"b":157.305,"tb":"u"},
{"t":"2021-10-22T08:00Z","o":157.319,"h":157.412,"l":157.311,"c":157.375,"a":157.316,"b":157.314},
{"t":"2021-10-22T08:15Z","o":157.375,"h":157.375,"l":157.291,"c":157.333,"a":157.314,"b":157.381},
{"t":"2021-10-22T08:30Z","o":157.333,"h":157.333,"l":157.226,"c":157.291,"a":157.314,"b":157.392},
{"t":"2021-10-22T08:45Z","o":157.291,"h":157.319,"l":157.249,"c":157.277,"a":157.314,"b":157.390},
{"t":"2021-10-22T09:00Z","o":157.277,"h":157.283,"l":157.108,"c":157.179,"a":157.286,"b":157.381},
{"t":"2021-10-22T09:15Z","o":157.179,"h":157.254,"l":157.122,"c":157.151,"a":157.260,"b":157.375},
{"t":"2021-10-22T09:30Z","o":157.151,"h":157.243,"l":157.122,"c":157.193,"a":157.260,"b":157.364},
{"t":"2021-10-22T09:45Z","o":157.193,"h":157.226,"l":157.131,"c":157.165,"a":157.260,"b":157.342},
{"t":"2021-10-22T10:00Z","o":157.165,"h":157.235,"l":157.145,"c":157.193,"a":157.260,"b":157.314},
{"t":"2021-10-22T10:15Z","o":157.194,"h":157.276,"l":157.180,"c":157.220,"a":157.260,"b":157.277}
]
},
"layer":[
{"data":{"name":"sessions"},
 "mark":{"type":"rect","clip":true,"blend":"multiply"},
 "encoding":{
  "x":{"field":"s","type":"temporal","title":null,
   "scale":{"type":"utc","nice":false,"domain":[{"year":2021,"month":10,"date":19,"hours":8,"minutes":39,"seconds":22,"milliseconds":500,"utc":true},{"year":2021,"month":10,"date":22,"hours":18,"minutes":46,"seconds":52,"milliseconds":500,"utc":true}]},
   "axis":{"orient":"bottom","tickCount":40,"values":[
    {"year":2021,"month":10,"date":19,"hours":8,"minutes":45,"utc":true},
    {"year":2021,"month":10,"date":19,"hours":12,"minutes":45,"utc":true},
    {"year":2021,"month":10,"date":19,"hours":16,"minutes":45,"utc":true},
    {"year":2021,"month":10,"date":19,"hours":20,"minutes":45,"utc":true},
    {"year":2021,"month":10,"date":20,"hours":0,"minutes":45,"utc":true},
    {"year":2021,"month":10,"date":20,"hours":4,"minutes":45,"utc":true},
    {"year":2021,"month":10,"date":20,"hours":8,"minutes":45,"utc":true},
    {"year":2021,"month":10,"date":20,"hours":12,"minutes":45,"utc":true},
    {"year":2021,"month":10,"date":20,"hours":16,"minutes":45,"utc":true},
    {"year":2021,"month":10,"date":20,"hours":20,"minutes":45,"utc":true},
    {"year":2021,"month":10,"date":21,"hours":0,"minutes":45,"utc":true},
    {"year":2021,"month":10,"date":21,"hours":4,"minutes":45,"utc":true},
    {"year":2021,"month":10,"date":21,"hours":8,"minutes":45,"utc":true},
    {"year":2021,"month":10,"date":21,"hours":12,"minutes":45,"utc":true},
    {"year":2021,"month":10,"date":21,"hours":16,"minutes":45,"utc":true},
    {"year":2021,"month":10,"date":21,"hours":20,"minutes":45,"utc":true},
    {"year":2021,"month":10,"date":22,"hours":0,"minutes":45,"utc":true},
    {"year":2021,"month":10,"date":22,"hours":4,"minutes":45,"utc":true},
    {"year":2021,"month":10,"date":22,"hours":8,"minutes":45,"utc":true}],
    "labelExpr":"utcFormat(datum.value, '%d %H:%M') == '19 08:45' ? '19 Oct 2021' : utcFormat(datum.value, '%d %b %H:%M')",
    "labelAlign":"left","labelPadding":2,"labelOffset":1,"tickSize":3,"labelFlush":false,"labelOverlap":false,"labelBound":false,"domain":true,"grid":false}},
  "x2":{"field":"e"},
  "y":{"field":"hi","type":"quantitative","title":null,
   "scale":{"domain":[156.7287,158.2978],"zero":false,"nice":false},
   "axis":{"orient":"right","tickCount":40,"values":[158.25,158.155,158.06,157.965,157.87,157.775,157.68,157.585,157.49,157.395,157.305,157.12,157.025,156.93,156.835,156.74],"format":".3f","tickSize":3,"labelPadding":3,"labelOverlap":false,"labelFlush":false,"labelBound":false,"grid":false,"domain":true}},
  "y2":{"field":"lo"},
  "color":{"condition":[{"test":"datum.kind == 'Tokyo'","value":"#f4f4dc"},{"test":"datum.kind == 'London'","value":"#ffe4e1"}],"value":"#e0ffff"}
 }},
{"data":{"values":[{"d":"2021-10-20T00:00Z"},{"d":"2021-10-21T00:00Z"},{"d":"2021-10-22T00:00Z"}]},
 "mark":{"type":"rule","strokeDash":[3,2],"color":"#000000","strokeWidth":1},
 "encoding":{"x":{"field":"d","type":"temporal","title":null}}},
{"data":{"name":"quotes"},
 "mark":{"type":"rule","strokeWidth":1},
 "encoding":{"y":{"field":"p","type":"quantitative","title":null},
  "color":{"condition":{"test":"datum.kind == 'Ask'","value":"#ff4500"},"value":"#c0c0c0"}}},
{"data":{"name":"bars"},
 "mark":{"type":"rule","color":"#000000","strokeWidth":1},
 "encoding":{"x":{"field":"t","type":"temporal","title":null},"y":{"field":"h","type":"quantitative","title":null},"y2":{"field":"l"}}},
{"data":{"name":"bars"},
 "mark":{"type":"tick","orient":"horizontal","size":1,"thickness":1,"xOffset":-1,"color":"#000000","opacity":1},
 "encoding":{"x":{"field":"t","type":"temporal","title":null},"y":{"field":"o","type":"quantitative","title":null}}},
{"data":{"name":"bars"},
 "mark":{"type":"tick","orient":"horizontal","size":1,"thickness":1,"xOffset":1,"color":"#000000","opacity":1},
 "encoding":{"x":{"field":"t","type":"temporal","title":null},"y":{"field":"c","type":"quantitative","title":null}}},
{"data":{"name":"bars"},
 "mark":{"type":"rule","strokeWidth":5},
 "encoding":{"x":{"field":"t","type":"temporal","title":null},"y":{"field":"a","type":"quantitative","title":null},"y2":{"field":"b"},
  "color":{"condition":{"test":"datum.a > datum.b","value":"#004400"},"value":"#480000"}}},
{"data":{"name":"bars"},
 "transform":[{"window":[{"op":"lead","field":"t","as":"tn"},{"op":"lead","field":"a","as":"an"}],"sort":[{"field":"t"}]},{"filter":"datum.tn != null"}],
 "mark":{"type":"rule","strokeWidth":2,"strokeCap":"round"},
 "encoding":{"x":{"field":"t","type":"temporal","title":null},"x2":{"field":"tn"},"y":{"field":"a","type":"quantitative","title":null},"y2":{"field":"an"},
  "color":{"condition":[{"test":"datum.an > datum.a","value":"#00ff00"},{"test":"datum.an < datum.a","value":"#ff0000"},{"test":"datum.ta == 'u'","value":"#00ff00"}],"value":"#ff0000"}}},
{"data":{"name":"bars"},
 "transform":[{"window":[{"op":"lead","field":"t","as":"tn"},{"op":"lead","field":"b","as":"bn"}],"sort":[{"field":"t"}]},{"filter":"datum.tn != null"}],
 "mark":{"type":"rule","strokeWidth":2,"strokeCap":"round"},
 "encoding":{"x":{"field":"t","type":"temporal","title":null},"x2":{"field":"tn"},"y":{"field":"b","type":"quantitative","title":null},"y2":{"field":"bn"},
  "color":{"condition":[{"test":"datum.bn > datum.b","value":"#006400"},{"test":"datum.bn < datum.b","value":"#dc143c"},{"test":"datum.tb == 'u'","value":"#006400"}],"value":"#dc143c"}}},
{"data":{"name":"quotes"},
 "mark":{"type":"rule","strokeWidth":10},
 "encoding":{"x":{"datum":{"year":2021,"month":10,"date":22,"hours":18,"minutes":50,"seconds":37,"milliseconds":500,"utc":true},"type":"temporal"},
  "x2":{"datum":{"year":2021,"month":10,"date":22,"hours":21,"minutes":39,"seconds":22,"milliseconds":500,"utc":true}},
  "y":{"field":"p","type":"quantitative","title":null},
  "color":{"condition":{"test":"datum.kind == 'Ask'","value":"#ff4500"},"value":"#000000"}}},
{"data":{"name":"quotes"},
 "mark":{"type":"text","align":"left","baseline":"middle","color":"#ffffff","fontSize":9.5,"font":"Liberation Sans"},
 "encoding":{"x":{"datum":{"year":2021,"month":10,"date":22,"hours":19,"minutes":5,"seconds":37,"milliseconds":500,"utc":true},"type":"temporal"},
  "y":{"field":"p","type":"quantitative","title":null},
  "text":{"field":"p","type":"quantitative","format":".3f"}}}
]
}
